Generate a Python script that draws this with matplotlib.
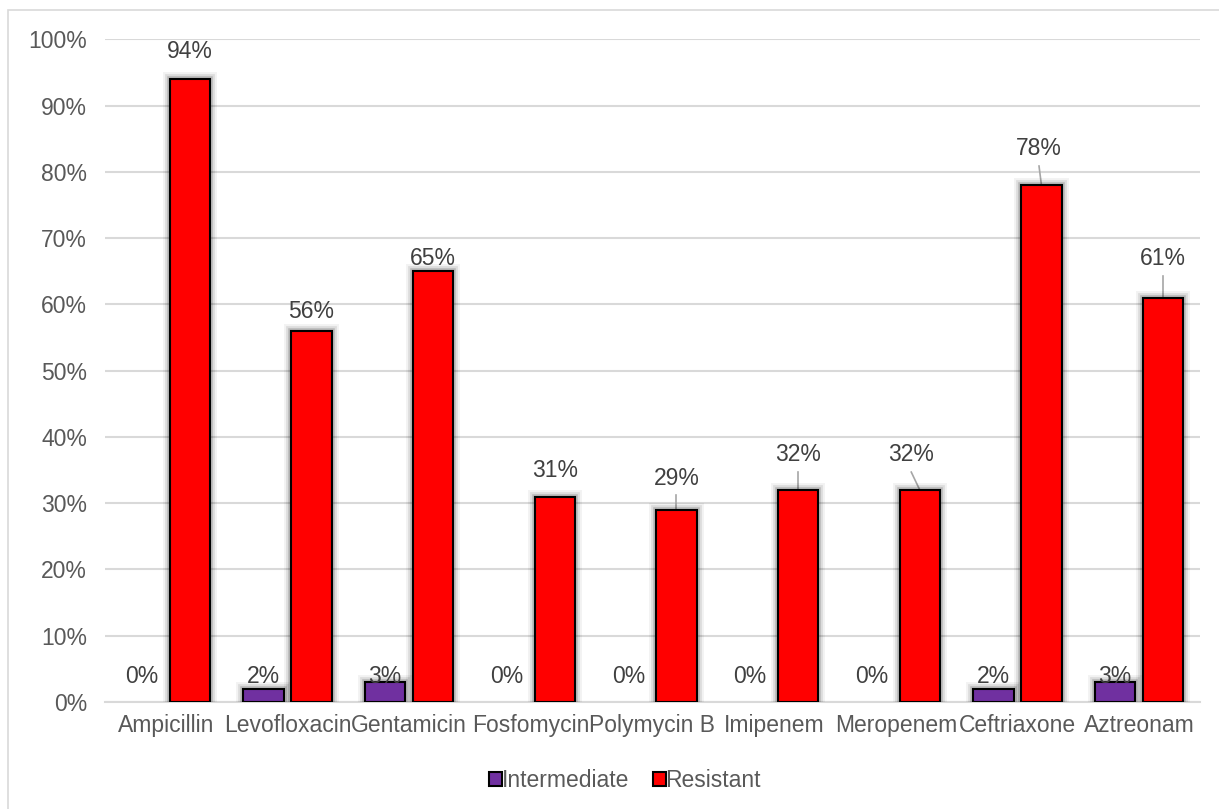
import matplotlib
matplotlib.use('agg')
import matplotlib.pyplot as plt
import matplotlib.patheffects as pe
from matplotlib.patches import Patch, Rectangle
import numpy as np

plt.rcParams['font.family'] = ['Liberation Sans', 'DejaVu Sans']

drugs = ['Ampicillin', 'Levofloxacin', 'Gentamicin', 'Fosfomycin', 'Polymycin B',
         'Imipenem', 'Meropenem', 'Ceftriaxone', 'Aztreonam']
intermediate = [0, 2, 3, 0, 0, 0, 0, 2, 3]
resistant = [94, 56, 65, 31, 29, 32, 32, 78, 61]

# where the value labels sit (in % units) and which ones get a leader line
inter_label_y = [3.8] * 9
res_label_y = [98.2, 58.9, 67.0, 35.0, 33.8, 37.3, 37.3, 83.5, 66.9]
res_label_dx = [0, 0, 0, 0, 0, 0, -0.07, -0.02, 0]
leader = [False, False, False, False, True, True, True, True, True]

PURPLE = '#7030A0'
RED = '#FF0000'
GRID = '#D9D9D9'
TICK = '#595959'
LABEL = '#404040'
FS = 16.5

fig = plt.figure(figsize=(12.19, 8.09), dpi=100)
ax = fig.add_axes([0.0861, 0.1323, 0.8983, 0.8189])

x = np.arange(len(drugs))
w = 0.33
off = 0.197

glow = [pe.Stroke(linewidth=10, foreground='#000000', alpha=0.05),
        pe.Stroke(linewidth=7, foreground='#000000', alpha=0.09),
        pe.Stroke(linewidth=4, foreground='#000000', alpha=0.16),
        pe.Normal()]

b1 = ax.bar(x - off, intermediate, w, color=PURPLE, edgecolor='black', linewidth=1.5, zorder=3)
b2 = ax.bar(x + off, resistant, w, color=RED, edgecolor='black', linewidth=1.5, zorder=3)
for bar, v in zip(list(b1) + list(b2), intermediate + resistant):
    if v > 0:
        bar.set_path_effects(glow)
    else:
        bar.set_visible(False)

for i in range(len(drugs)):
    ax.text(x[i] - off, inter_label_y[i], f'{intermediate[i]}%', ha='center', va='center',
            fontsize=FS, color=LABEL, zorder=4)
    lx = x[i] + off + res_label_dx[i]
    ax.text(lx, res_label_y[i], f'{resistant[i]}%', ha='center', va='center',
            fontsize=FS, color=LABEL, zorder=4)
    if leader[i]:
        ax.plot([lx, x[i] + off], [res_label_y[i] - 2.6, resistant[i]], color='#A6A6A6',
                linewidth=1.2, zorder=2)

ax.set_xlim(-0.5, len(drugs) - 0.5)
ax.set_ylim(0, 100)
ax.set_yticks(np.arange(0, 101, 10))
ax.set_yticklabels([f'{t}%' for t in range(0, 101, 10)])
ax.set_xticks(x)
ax.set_xticklabels(drugs)
ax.tick_params(axis='both', length=0, labelsize=FS, colors=TICK)
ax.tick_params(axis='y', pad=13)
ax.tick_params(axis='x', pad=9)
ax.yaxis.grid(True, color=GRID, linewidth=1.5, zorder=0)
ax.set_axisbelow(True)
for s in ['top', 'right', 'left']:
    ax.spines[s].set_visible(False)
ax.spines['bottom'].set_color(GRID)
ax.spines['bottom'].set_linewidth(1.5)

handles = [Patch(facecolor=PURPLE, edgecolor='black', linewidth=1.5, label='Intermediate'),
           Patch(facecolor=RED, edgecolor='black', linewidth=1.5, label='Resistant')]
leg = fig.legend(handles=handles, loc='center', bbox_to_anchor=(0.5127, 0.035), ncol=2,
                 frameon=False, fontsize=FS, handlelength=0.55, handleheight=0.55,
                 handletextpad=0.0, columnspacing=1.05, borderpad=0)
for t in leg.get_texts():
    t.set_color(TICK)

# chart area border
fig.patches.append(Rectangle((8 / 1219, -0.05), 1.1, 0.05 + (809 - 10) / 809,
                             transform=fig.transFigure, fill=False, edgecolor=GRID,
                             linewidth=1.2, zorder=0))

fig.savefig('out.png', dpi=100)
